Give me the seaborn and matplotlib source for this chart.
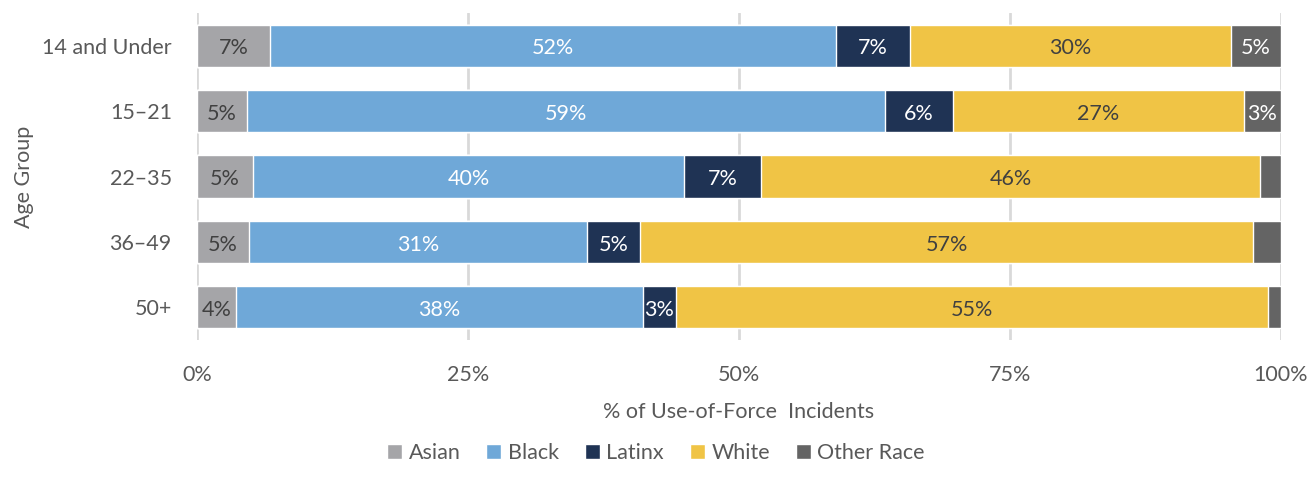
import numpy as np
import pandas as pd
import matplotlib
matplotlib.use('Agg')
import matplotlib.pyplot as plt
import seaborn as sns

# Data (percent of use-of-force incidents by race within each age group)
age_groups = ['14 and Under', '15–21', '22–35', '36–49', '50+']
races = ['Asian', 'Black', 'Latinx', 'White', 'Other Race']
asian = [6.8, 4.6, 5.2, 4.8, 3.6]
black = [52.2, 58.9, 39.8, 31.2, 37.6]
latinx = [6.8, 6.3, 7.1, 4.9, 3.0]
white = [29.6, 26.8, 46.0, 56.6, 54.6]
other = [4.6, 3.4, 1.9, 2.5, 1.2]

colors = ['#A5A5A8', '#6FA8D8', '#1F3354', '#F0C445', '#646464']
text_colors = ['#404040', 'white', 'white', '#404040', 'white']

df = pd.DataFrame({'Age Group': age_groups, 'Asian': asian, 'Black': black,
                   'Latinx': latinx, 'White': white, 'Other Race': other})
cum = df[races].cumsum(axis=1)

sns.set_theme(style='white')
plt.rcParams['font.family'] = ['Lato', 'DejaVu Sans']
fs = 15.5

fig = plt.figure(figsize=(13.12, 4.87), dpi=100)
ax = fig.add_axes([0.150, 0.302, 0.826, 0.671])

# draw cumulative bars back to front so each segment shows
for race, col in reversed(list(zip(races, colors))):
    sns.barplot(x=cum[race], y=df['Age Group'], orient='h', color=col,
                width=0.65, saturation=1, ax=ax, label=race, zorder=3)

# segment labels
for j, race in enumerate(races):
    for i in range(len(age_groups)):
        val = df[race][i]
        if val >= 2.95:
            ax.text(cum[race][i] - val / 2, i + 0.04, f'{val:.0f}%',
                    ha='center', va='center', fontsize=fs,
                    color=text_colors[j], zorder=4)

ax.set_xlim(0, 100)
ax.set_ylim(4.5, -0.5)
ax.set_xticks([0, 25, 50, 75, 100])
ax.set_xticklabels(['0%', '25%', '50%', '75%', '100%'])
ax.grid(axis='x', color='#D9D9D9', linewidth=2, zorder=0)
ax.set_axisbelow(True)
sns.despine(ax=ax, left=True, bottom=True)
ax.tick_params(axis='x', length=0, pad=18, labelsize=fs, labelcolor='#595959')
ax.tick_params(axis='y', length=0, pad=18, labelsize=fs, labelcolor='#595959')
ax.set_xlabel('% of Use-of-Force  Incidents', fontsize=fs, color='#595959', labelpad=12)
ax.set_ylabel('Age Group', fontsize=fs, color='#595959', labelpad=6)

handles, labels = ax.get_legend_handles_labels()
ax.get_legend().remove()
order = [labels.index(r) for r in races]
fig.legend([handles[k] for k in order], races, loc='lower center',
           bbox_to_anchor=(0.5, 0.01), ncol=5, frameon=False, fontsize=fs,
           handlelength=0.7, handleheight=0.7, handletextpad=0.3,
           columnspacing=1.2, labelcolor='#595959')

fig.savefig('out.png', dpi=100)
